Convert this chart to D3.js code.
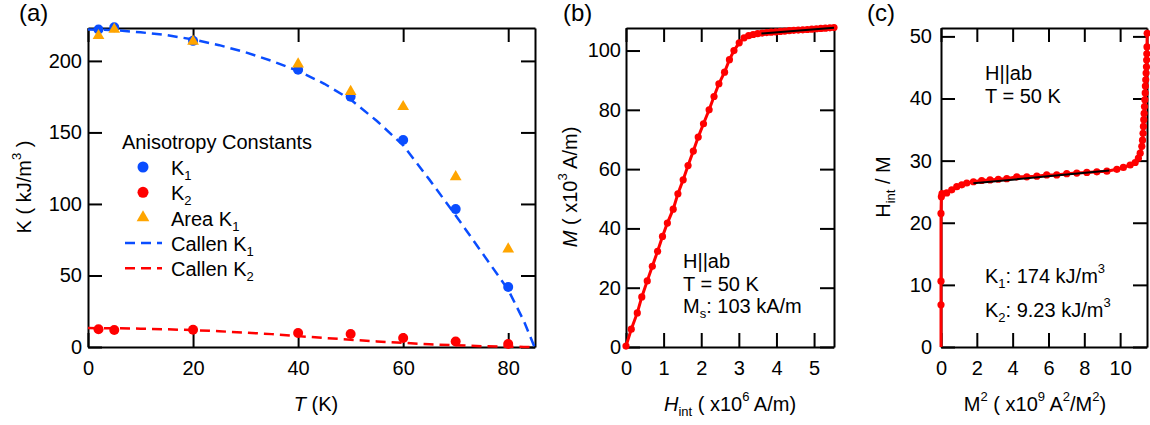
<!DOCTYPE html>
<html>
<head>
<meta charset="utf-8">
<script src="https://cdn.jsdelivr.net/npm/d3@7"></script>
<style>
body { margin: 0; background: #fff; }
text { font-family: "Liberation Sans", Arial, sans-serif; fill: #000; }
.axis path, .axis line { stroke: #000; stroke-width: 2; }
.axis text { font-size: 20px; }
</style>
</head>
<body>
<div id="chart"></div>
<script>
//==========================================================
// panel (a) : anisotropy constants vs temperature
let tempK     = [2, 5, 20, 40, 50, 60, 70, 80];
let k1Vals    = [222, 223.5, 214, 193.8, 175, 144.7, 96.4, 42];
let k2Vals    = [12.4, 11.9, 12, 9.8, 9.1, 6.3, 3.8, 2.1];
let areaK1    = [217.6, 222, 213.6, 197.8, 178.6, 168, 119, 68.4];
let callenT   = [0, 5, 10, 15, 20, 25, 30, 35, 40, 45, 50, 55, 60, 65, 70, 75, 80, 83, 85];
let callenK1  = [222, 221.5, 220, 218, 215, 211, 206, 200, 193, 184, 173, 158, 141, 117, 92, 66, 40, 18, 0];
let callenK2  = [13.2, 13.1, 12.8, 12.4, 11.8, 11, 10, 9, 7.6, 6.3, 5.1, 3.9, 2.9, 1.9, 1.2, 0.6, 0.2, 0.05, 0];

// panel (b) : M vs H_int at 50 K
let hIntB = [0, 0.14, 0.30, 0.42, 0.565, 0.70, 0.84, 0.97, 1.10, 1.255, 1.38, 1.52, 1.65, 1.79, 1.92,
             2.06, 2.21, 2.34, 2.47, 2.62, 2.75, 2.87, 3.01, 3.14, 3.26, 3.38, 3.50, 3.62, 3.74, 3.86,
             3.98, 4.10, 4.22, 4.34, 4.46, 4.58, 4.70, 4.82, 4.94, 5.06, 5.18, 5.30, 5.42, 5.53];
let magB  = [0.3, 6.0, 11.5, 16.9, 22.3, 27.2, 32.3, 37.3, 41.8, 46.5, 51.7, 56.4, 61.2, 66.1, 70.8,
             75.3, 80.0, 84.5, 88.8, 92.7, 96.9, 100.0, 102.6, 104.3, 105.0, 105.4, 105.7, 105.9, 106.05, 106.2,
             106.3, 106.45, 106.55, 106.7, 106.8, 106.9, 107.0, 107.1, 107.2, 107.35, 107.45, 107.55, 107.65, 107.75];
let fitB_H = [3.6, 5.53];
let fitB_M = [105.75, 107.7];

// panel (c) : H_int / M vs M^2
let m2C = [0, 0, 0, 0, 0.02, 0.06, 0.32, 0.6, 0.88, 1.16, 1.44, 1.81, 2.27, 2.74, 3.2, 3.67, 4.23, 4.79,
           5.35, 5.9, 6.46, 7.02, 7.58, 8.14, 8.7, 9.26, 9.82, 10.18, 10.56, 10.84, 11.02, 11.12, 11.21,
           11.25, 11.28, 11.30, 11.32, 11.34, 11.36, 11.38, 11.40, 11.41, 11.43, 11.45, 11.47, 11.48, 11.49, 11.50, 11.51];
let hmC = [0, 6.8, 10.6, 21.5, 24.2, 24.7, 24.8, 25.3, 25.8, 26.1, 26.4, 26.6, 26.8, 26.9, 27.0, 27.1, 27.4, 27.4,
           27.5, 27.7, 27.7, 27.9, 28.0, 28.1, 28.2, 28.3, 28.6, 28.9, 29.3, 29.7, 30.4, 31.2, 32.3,
           33.3, 34.4, 35.5, 36.6, 37.6, 38.7, 39.8, 40.9, 42, 43, 44.1, 45.1, 46.2, 47.2, 48.3, 50.5];
let fitC_M2 = [1.81, 9.4];
let fitC_HM = [26.35, 28.4];

let blue = "#0a4dff", red = "#ff0000", orange = "#ffa500";

//==========================================================
let svg = d3.select("#chart").append("svg")
            .attr("width", 1150)
            .attr("height", 425);

// writes text made of pieces: n = normal, i = italic, sub, sup
function richText(sel, parts) {
    let cur = 0;
    parts.forEach(([str, kind]) => {
        let want = kind === "sub" ? 5 : kind === "sup" ? -10 : 0;
        let t = sel.append("tspan").text(str);
        if (want !== cur) t.attr("dy", want - cur);
        cur = want;
        if (kind === "i") t.style("font-style", "italic");
        if (kind === "sub" || kind === "sup") t.style("font-size", "13px");
    });
    return sel;
}

// frame, inward ticks on four sides, labels left and bottom
function makePanel(p) {
    let x = d3.scaleLinear().domain(p.xDom).range([p.left, p.right]);
    let y = d3.scaleLinear().domain(p.yDom).range([p.bottom, p.top]);

    svg.append("g").attr("class", "axis")
       .attr("transform", `translate(0,${p.bottom})`)
       .call(d3.axisBottom(x).tickValues(p.xTicks).tickFormat(d3.format("d"))
               .tickSizeInner(-14).tickSizeOuter(0).tickPadding(14));
    svg.append("g").attr("class", "axis")
       .attr("transform", `translate(0,${p.top})`)
       .call(d3.axisTop(x).tickValues(p.xTicks).tickSizeInner(-14).tickSizeOuter(0).tickFormat(""));
    svg.append("g").attr("class", "axis")
       .attr("transform", `translate(${p.left},0)`)
       .call(d3.axisLeft(y).tickValues(p.yTicks).tickFormat(d3.format("d"))
               .tickSizeInner(-14).tickSizeOuter(0).tickPadding(p.yPad));
    svg.append("g").attr("class", "axis")
       .attr("transform", `translate(${p.right},0)`)
       .call(d3.axisRight(y).tickValues(p.yTicks).tickSizeInner(-14).tickSizeOuter(0).tickFormat(""));

    svg.append("text")
       .attr("x", p.titleX).attr("y", 21)
       .style("font-size", "24px")
       .text(p.title);
    return {x, y};
}

//==========================================================
// panel (a)
let pa = makePanel({left: 88, right: 535, top: 28, bottom: 347,
                    xDom: [0, 85.1], yDom: [0, 223],
                    xTicks: [0, 20, 40, 60, 80], yTicks: [0, 50, 100, 150, 200],
                    yPad: 6, title: "(a)", titleX: 19});

let lineA = d3.line().x(d => pa.x(d[0])).y(d => pa.y(d[1]));
svg.append("path")
   .attr("d", lineA(callenT.map((t, i) => [t, callenK1[i]])))
   .attr("fill", "none").attr("stroke", blue).attr("stroke-width", 2.5)
   .attr("stroke-dasharray", "10,6");
svg.append("path")
   .attr("d", lineA(callenT.map((t, i) => [t, callenK2[i]])))
   .attr("fill", "none").attr("stroke", red).attr("stroke-width", 2.5)
   .attr("stroke-dasharray", "10,6");

svg.selectAll(".k1dot").data(tempK).enter().append("circle")
   .attr("cx", t => pa.x(t)).attr("cy", (t, i) => pa.y(k1Vals[i]))
   .attr("r", 5).attr("fill", blue);
svg.selectAll(".k2dot").data(tempK).enter().append("circle")
   .attr("cx", t => pa.x(t)).attr("cy", (t, i) => pa.y(k2Vals[i]))
   .attr("r", 5).attr("fill", red);

let tri = d3.symbol().type(d3.symbolTriangle).size(60);
svg.selectAll(".tri").data(tempK).enter().append("path")
   .attr("d", tri)
   .attr("transform", (t, i) => `translate(${pa.x(t)},${pa.y(areaK1[i])})`)
   .attr("fill", orange);

// legend
let legend = svg.append("g").style("font-size", "20px");
legend.append("text").attr("x", 122).attr("y", 149).text("Anisotropy Constants");
let legRows = [
    {kind: "dot", color: blue, label: [["K"], ["1", "sub"]]},
    {kind: "dot", color: red, label: [["K"], ["2", "sub"]]},
    {kind: "tri", color: orange, label: [["Area K"], ["1", "sub"]]},
    {kind: "dash", color: blue, label: [["Callen K"], ["1", "sub"]]},
    {kind: "dash", color: red, label: [["Callen K"], ["2", "sub"]]}
];
legRows.forEach((r, i) => {
    let base = 175 + i * 25.3;
    let cy = base - 8;
    if (r.kind === "dot") {
        legend.append("circle").attr("cx", 143).attr("cy", cy).attr("r", 5.5).attr("fill", r.color);
    } else if (r.kind === "tri") {
        legend.append("path").attr("d", d3.symbol().type(d3.symbolTriangle).size(70))
              .attr("transform", `translate(143,${cy})`).attr("fill", r.color);
    } else {
        legend.append("line").attr("x1", 125).attr("x2", 162).attr("y1", cy).attr("y2", cy)
              .attr("stroke", r.color).attr("stroke-width", 2.5).attr("stroke-dasharray", "10,6");
    }
    richText(legend.append("text").attr("x", 171).attr("y", base), r.label);
});

richText(svg.append("text").attr("x", 316).attr("y", 411)
            .attr("text-anchor", "middle").style("font-size", "20px"),
         [["T", "i"], [" (K)"]]);
richText(svg.append("text").attr("transform", "translate(31,187) rotate(-90)")
            .attr("text-anchor", "middle").style("font-size", "20px"),
         [["K ( kJ/m"], ["3", "sup"], [" )"]]);

//==========================================================
// panel (b)
let pb = makePanel({left: 626, right: 834, top: 28, bottom: 347,
                    xDom: [0, 5.53], yDom: [0, 107.6],
                    xTicks: [0, 1, 2, 3, 4, 5], yTicks: [0, 20, 40, 60, 80, 100],
                    yPad: 5, title: "(b)", titleX: 563});

let lineB = d3.line().x(d => pb.x(d[0])).y(d => pb.y(d[1]));
let ptsB = hIntB.map((h, i) => [h, magB[i]]);
svg.append("path").attr("d", lineB(ptsB))
   .attr("fill", "none").attr("stroke", red).attr("stroke-width", 3);
svg.selectAll(".bdot").data(ptsB).enter().append("circle")
   .attr("cx", d => pb.x(d[0])).attr("cy", d => pb.y(d[1]))
   .attr("r", 3.6).attr("fill", red);
svg.append("path").attr("d", lineB(fitB_H.map((h, i) => [h, fitB_M[i]])))
   .attr("stroke", "#000").attr("stroke-width", 2);

let noteB = svg.append("g").style("font-size", "20px");
noteB.append("text").attr("x", 683).attr("y", 268).text("H||ab");
noteB.append("text").attr("x", 683).attr("y", 291).text("T = 50 K");
richText(noteB.append("text").attr("x", 683).attr("y", 313), [["M"], ["s", "sub"], [": 103 kA/m"]]);

richText(svg.append("text").attr("x", 730).attr("y", 411)
            .attr("text-anchor", "middle").style("font-size", "20px"),
         [["H", "i"], ["int", "sub"], [" ( x10"], ["6", "sup"], [" A/m)"]]);
richText(svg.append("text").attr("transform", "translate(577,187) rotate(-90)")
            .attr("text-anchor", "middle").style("font-size", "20px"),
         [["M", "i"], [" ( x10"], ["3", "sup"], [" A/m)"]]);

//==========================================================
// panel (c)
let pc = makePanel({left: 941, right: 1147, top: 28, bottom: 347,
                    xDom: [0, 11.5], yDom: [0, 51.35],
                    xTicks: [0, 2, 4, 6, 8, 10], yTicks: [0, 10, 20, 30, 40, 50],
                    yPad: 9, title: "(c)", titleX: 867});

let lineC = d3.line().x(d => pc.x(d[0])).y(d => pc.y(d[1]));
let ptsC = m2C.map((m, i) => [m, hmC[i]]);
svg.append("path").attr("d", lineC(ptsC))
   .attr("fill", "none").attr("stroke", red).attr("stroke-width", 3);
svg.selectAll(".cdot").data(ptsC.slice(1)).enter().append("circle")
   .attr("cx", d => pc.x(d[0])).attr("cy", d => pc.y(d[1]))
   .attr("r", 3.6).attr("fill", red);
svg.append("path").attr("d", lineC(fitC_M2.map((m, i) => [m, fitC_HM[i]])))
   .attr("stroke", "#000").attr("stroke-width", 2);

let noteC = svg.append("g").style("font-size", "20px");
noteC.append("text").attr("x", 985).attr("y", 80).text("H||ab");
noteC.append("text").attr("x", 985).attr("y", 103).text("T = 50 K");
richText(noteC.append("text").attr("x", 985).attr("y", 283), [["K"], ["1", "sub"], [": 174 kJ/m"], ["3", "sup"]]);
richText(noteC.append("text").attr("x", 985).attr("y", 317), [["K"], ["2", "sub"], [": 9.23 kJ/m"], ["3", "sup"]]);

richText(svg.append("text").attr("x", 1035).attr("y", 411)
            .attr("text-anchor", "middle").style("font-size", "20px"),
         [["M"], ["2", "sup"], [" ( x10"], ["9", "sup"], [" A"], ["2", "sup"], ["/M"], ["2", "sup"], [")"]]);
richText(svg.append("text").attr("transform", "translate(890,187) rotate(-90)")
            .attr("text-anchor", "middle").style("font-size", "20px"),
         [["H"], ["int", "sub"], [" / M"]]);
</script>
</body>
</html>
